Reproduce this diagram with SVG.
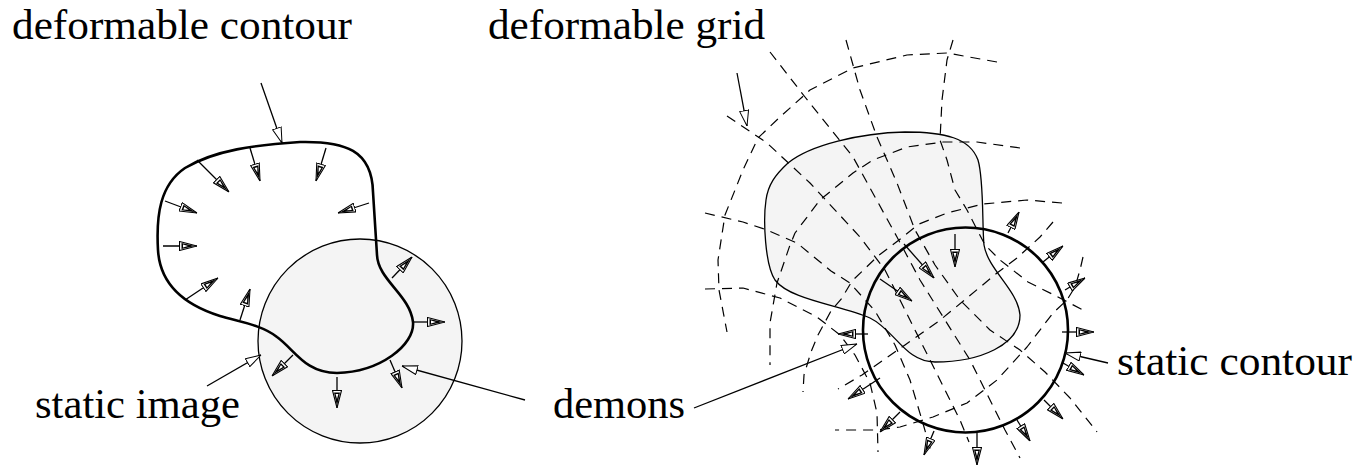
<svg xmlns="http://www.w3.org/2000/svg" width="1362" height="476" viewBox="0 0 1362 476">
<style>
.lbl{font-family:"Liberation Serif","Times New Roman",serif;font-size:42px;fill:#000}
.ptr{stroke:#000;stroke-width:1.3;fill:none;marker-end:url(#open)}
.dem{stroke:#000;stroke-width:1.3;fill:none;marker-end:url(#demon)}
.grid{stroke:#000;stroke-width:1.2;fill:none;stroke-dasharray:10 7;stroke-linejoin:round}
</style>
<defs>
<marker id="demon" viewBox="0 0 18 10" refX="18" refY="5" markerWidth="18" markerHeight="10" orient="auto" markerUnits="userSpaceOnUse">
<path d="M0.5,0.5 L18,5 L0.5,9.5 Z" fill="#fff" stroke="#000" stroke-width="1.1"/>
<path d="M2.5,2 L16,5 L2.5,8 Z" fill="#000"/>
<path d="M4,3.6 L9,5 L4,6.4 Z" fill="#fff"/>
</marker>
<marker id="open" viewBox="0 0 16 10" refX="16" refY="5" markerWidth="16" markerHeight="10" orient="auto" markerUnits="userSpaceOnUse">
<path d="M0.5,0.5 L16,5 L0.5,9.5 Z" fill="#fff" stroke="#000" stroke-width="1"/>
</marker>
</defs>
<rect width="1362" height="476" fill="#fff"/>

<g id="static-image">
<circle cx="360" cy="341" r="102" fill="#f4f4f4" stroke="#000" stroke-width="1.3"/>
</g>
<g id="deformable-contour">
<path d="M 300 142 C 345 141, 372 150, 373 192 L 377 255 C 378 280, 410 295, 413 322 C 415 345, 380 372, 337 373 C 305 373, 295 350, 277 337 C 262 325, 240 322, 220 316 C 185 305, 160 285, 158 250 C 156 215, 160 185, 185 168 C 215 150, 255 145, 300 142 Z" fill="none" stroke="#000" stroke-width="2.6"/>
</g>

<g id="deformable-shape">
<path d="M 788 163 C 810 145, 860 133, 905 132 C 945 132, 970 138, 978 160 C 984 180, 982 225, 984 245 C 988 270, 1018 290, 1020 315 C 1020 345, 980 362, 935 362 C 905 362, 895 330, 870 318 C 840 305, 790 300, 775 280 C 765 265, 763 220, 766 200 C 768 185, 775 175, 788 163 Z" fill="#f4f4f4" stroke="#000" stroke-width="1.3"/>
</g>

<g id="deformable-grid">
<polyline class="grid" points="997,62 947,53 907,55 853,68 810,90 780,117 758,138 743,170 725,215 718,260 719,290 727,332"/>
<polyline class="grid" points="1020,148 977,142 943,142 907,147 873,160 853,173 820,200 795,233 790,245 777,283 770,323 770,365"/>
<polyline class="grid" points="1062,203 1027,200 983,204 947,213 919,224 899,240 878,256 852,281 842,298 831,311 818,335 811,352 804,375 803,392"/>
<polyline class="grid" points="1053,222 1040,237 1017,258 997,273 967,298 939,321 905,345 862,375 838,389"/>
<polyline class="grid" points="1083,257 1080,270 1075,287 1067,300 1053,313 1027,347 997,380 967,403 933,417 900,427 877,430 835,430"/>
<polyline class="grid" points="705,289 743,288 780,298 817,317 840,335 855,355 870,383 877,413 878,452"/>
<polyline class="grid" points="705,213 743,222 767,230 797,243 831,271 850,283 875,311 895,345 910,380 922,420 932,455"/>
<polyline class="grid" points="727,116 767,143 810,183 860,237 885,270 905,310 925,350 945,390 960,420 969,442"/>
<polyline class="grid" points="770,52 805,97 853,157 897,237 920,280 945,320 970,360 990,400 1005,430 1020,458"/>
<polyline class="grid" points="846,40 860,90 877,137 897,183 915,230 935,265 960,300 990,330 1020,350 1045,372 1070,398 1097,432"/>
<polyline class="grid" points="953,40 947,60 942,100 940,140 947,160 955,190 967,210 985,245 1000,260 1028,282 1058,297 1083,310"/>
</g>

<g id="static-contour">
<circle cx="965.5" cy="330" r="102.5" fill="none" stroke="#000" stroke-width="2.6"/>
</g>

<g id="connectors">
<line class="dem" x1="197" y1="160" x2="229" y2="192"/>
<line class="dem" x1="250" y1="148" x2="260" y2="181"/>
<line class="dem" x1="326" y1="148" x2="316" y2="181"/>
<line class="dem" x1="369" y1="203" x2="338" y2="213"/>
<line class="dem" x1="165" y1="201" x2="197" y2="213"/>
<line class="dem" x1="163" y1="246" x2="197" y2="246"/>
<line class="dem" x1="185" y1="300" x2="218" y2="278"/>
<line class="dem" x1="240" y1="320" x2="250" y2="289"/>
<line class="dem" x1="392" y1="278" x2="412" y2="257"/>
<line class="dem" x1="413" y1="322" x2="445" y2="322"/>
<line class="dem" x1="293" y1="355" x2="272" y2="376"/>
<line class="dem" x1="337" y1="377" x2="337" y2="408"/>
<line class="dem" x1="390" y1="360" x2="402" y2="388"/>
<line class="dem" x1="880" y1="279" x2="912" y2="301"/>
<line class="dem" x1="904" y1="244" x2="934" y2="278"/>
<line class="dem" x1="955" y1="234" x2="955" y2="267"/>
<line class="dem" x1="868" y1="334" x2="838" y2="334"/>
<line class="dem" x1="880" y1="378" x2="848" y2="399"/>
<line class="dem" x1="900" y1="412" x2="880" y2="432"/>
<line class="dem" x1="934" y1="431" x2="924" y2="455"/>
<line class="dem" x1="977" y1="433" x2="977" y2="465"/>
<line class="dem" x1="1017" y1="420" x2="1030" y2="441"/>
<line class="dem" x1="1044" y1="400" x2="1063" y2="419"/>
<line class="dem" x1="1063" y1="363" x2="1084" y2="375"/>
<line class="dem" x1="1062" y1="332" x2="1094" y2="332"/>
<line class="dem" x1="1065" y1="290" x2="1085" y2="278"/>
<line class="dem" x1="1043" y1="262" x2="1063" y2="246"/>
<line class="dem" x1="1008" y1="233" x2="1019" y2="212"/>
<line class="ptr" x1="261" y1="83" x2="282" y2="143"/>
<line class="ptr" x1="207" y1="386" x2="261" y2="355"/>
<line class="ptr" x1="525" y1="400" x2="402" y2="366"/>
<line class="ptr" x1="694" y1="408" x2="857" y2="344"/>
<line class="ptr" x1="737" y1="73" x2="747" y2="126"/>
<line class="ptr" x1="1108" y1="363" x2="1065" y2="353"/>
</g>

<g id="labels">
<text class="lbl" x="12" y="39" textLength="340" lengthAdjust="spacingAndGlyphs">deformable contour</text>
<text class="lbl" x="488" y="39" textLength="277" lengthAdjust="spacingAndGlyphs">deformable grid</text>
<text class="lbl" x="35" y="418" textLength="205" lengthAdjust="spacingAndGlyphs">static image</text>
<text class="lbl" x="553" y="418" textLength="132" lengthAdjust="spacingAndGlyphs">demons</text>
<text class="lbl" x="1117" y="375" textLength="235" lengthAdjust="spacingAndGlyphs">static contour</text>
</g>
</svg>
